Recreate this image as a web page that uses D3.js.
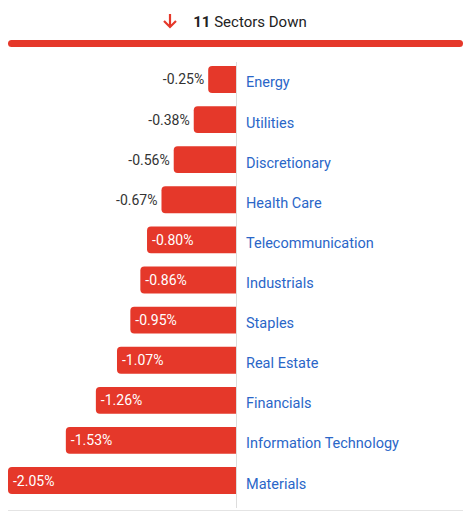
<!DOCTYPE html>
<html><head><meta charset="utf-8">
<script src="https://cdn.jsdelivr.net/npm/d3@7"></script>
<style>body{margin:0;background:#fff;font-family:Roboto,"Noto Sans",sans-serif;}</style>
</head><body>
<svg id="chart" width="469" height="512"></svg>
<script>
const sectors = ["Energy", "Utilities", "Discretionary", "Health Care", "Telecommunication", "Industrials",
  "Staples", "Real Estate", "Financials", "Information Technology", "Materials"];
const changes = [-0.25, -0.38, -0.56, -0.67, -0.80, -0.86, -0.95, -1.07, -1.26, -1.53, -2.05];

const red = "#e5382a";
const svg = d3.select("#chart");

// header
const head = svg.append("text").attr("x", 250).attr("y", 27).attr("text-anchor", "middle")
  .style("font-size", "15px").style("fill", "#222");
head.append("tspan").style("font-weight", "bold").text("11");
head.append("tspan").text(" Sectors Down");
svg.append("path").attr("d", "M170,14 L170,27 M164,21 L170,27 L176,21")
  .attr("stroke", red).attr("stroke-width", 2.2).attr("fill", "none");
svg.append("rect").attr("x", 8).attr("y", 40).attr("width", 455).attr("height", 7)
  .attr("rx", 3.5).attr("fill", red);

const x = d3.scaleLinear().domain([-2.05, 0]).range([8, 236]);
const y = d3.scaleBand().domain(sectors).range([60, 500]).paddingInner(0.33).paddingOuter(0.15);

svg.append("line").attr("x1", 236.5).attr("x2", 236.5).attr("y1", 62).attr("y2", 508)
  .attr("stroke", "#ddd");
svg.append("line").attr("x1", 8).attr("x2", 463).attr("y1", 510.5).attr("y2", 510.5)
  .attr("stroke", "#e4e4e4");

const rows = svg.append("g").selectAll("g").data(sectors).join("g");
const r = 4;
rows.append("path").attr("fill", red).attr("d", (d, i) => {
  const x0 = x(changes[i]), x1 = x(0), y0 = y(d), h = y.bandwidth();
  return `M${x1},${y0} L${x0 + r},${y0} Q${x0},${y0} ${x0},${y0 + r} L${x0},${y0 + h - r} Q${x0},${y0 + h} ${x0 + r},${y0 + h} L${x1},${y0 + h} Z`;
});
rows.append("text")
  .attr("x", (d, i) => changes[i] <= -0.8 ? x(changes[i]) + 5 : x(changes[i]) - 4)
  .attr("y", d => y(d) + y.bandwidth() / 2 + 5)
  .attr("text-anchor", (d, i) => changes[i] <= -0.8 ? "start" : "end")
  .style("font-size", "14px")
  .style("fill", (d, i) => changes[i] <= -0.8 ? "#fff" : "#333")
  .text((d, i) => changes[i].toFixed(2) + "%");
rows.append("text").attr("x", 246).attr("y", d => y(d) + y.bandwidth() / 2 + 8)
  .style("font-size", "14.5px").style("fill", "#2a66c8").text(d => d);
</script>
</body></html>
